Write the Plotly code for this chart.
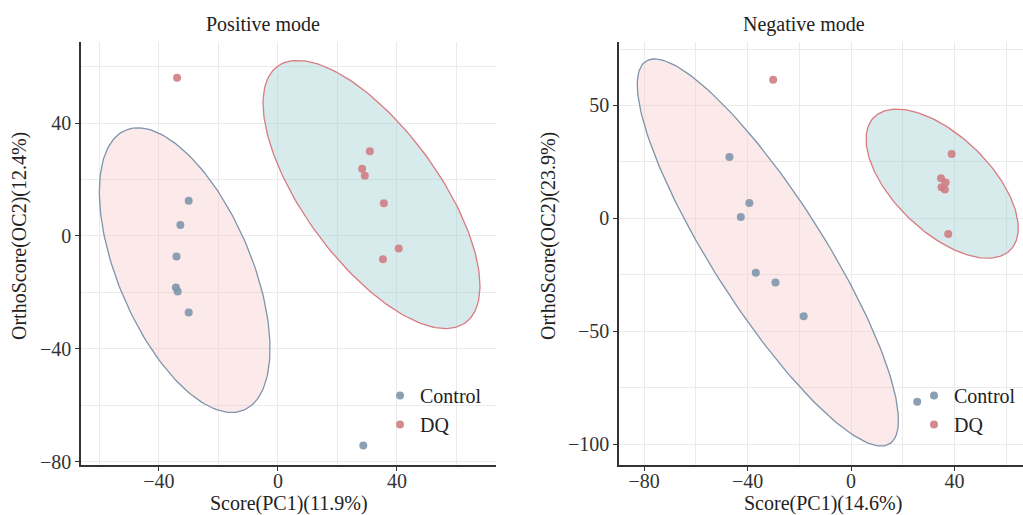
import numpy as np
import plotly.graph_objects as go

# ---------------- data ----------------
groups = ["Control", "DQ"]

pos_control_x = [-30.0, -32.8, -34.1, -34.3, -33.7, -30.0, 28.7]
pos_control_y = [12.5, 3.9, -7.3, -18.2, -19.7, -27.1, -74.2]
pos_dq_x = [-33.9, 30.9, 28.3, 29.2, 35.6, 40.6, 35.3]
pos_dq_y = [56.0, 30.0, 23.8, 21.3, 11.6, -4.4, -8.2]

neg_control_x = [-47.0, -39.3, -42.6, -36.8, -29.2, -18.3, 25.6]
neg_control_y = [27.2, 6.8, 0.6, -24.1, -28.4, -43.4, -81.3]
neg_dq_x = [-30.1, 38.9, 34.8, 36.6, 35.0, 36.3, 37.6]
neg_dq_y = [61.4, 28.5, 17.7, 15.8, 13.7, 12.7, -7.0]

# ellipse parameters: centre x, centre y, semi-major, semi-minor, angle (deg)
pos_control_ellipse = [-31.35, -12.1, 53.4, 22.6, 111.4]
pos_dq_ellipse = [31.45, 14.7, 55.3, 22.9, 124.3]
neg_control_ellipse = [-32.15, -15.15, 97.0, 22.2, 118.7]
neg_dq_ellipse = [35.25, 15.35, 39.6, 19.7, 129.5]

panel_titles = ["Positive mode", "Negative mode"]
x_titles = ["Score(PC1)(11.9%)", "Score(PC1)(14.6%)"]
y_titles = ["OrthoScore(OC2)(12.4%)", "OrthoScore(OC2)(23.9%)"]

# ---------------- style ----------------
W, H = 1023, 515
FONT = "Liberation Serif"
col_control = "#8096AB"
col_dq = "#CF7E83"
fill_control_ell = "rgba(246,196,196,0.38)"
line_control_ell = "#7D94AA"
fill_dq_ell = "rgba(160,208,210,0.42)"
line_dq_ell = "#D97B80"
axis_col = "#333333"
grid_col = "#EBEBEB"


def ellipse(params, n=200):
    cx, cy, a, b, ang = params
    t = np.linspace(0, 2 * np.pi, n)
    th = np.deg2rad(ang)
    x = cx + a * np.cos(t) * np.cos(th) - b * np.sin(t) * np.sin(th)
    y = cy + a * np.cos(t) * np.sin(th) + b * np.sin(t) * np.cos(th)
    return x, y


fig = go.Figure()

panels = [
    dict(xa="x", ya="y", legend="legend",
         ce=pos_control_ellipse, de=pos_dq_ellipse,
         cx=pos_control_x, cy=pos_control_y, dx=pos_dq_x, dy=pos_dq_y),
    dict(xa="x2", ya="y2", legend="legend2",
         ce=neg_control_ellipse, de=neg_dq_ellipse,
         cx=neg_control_x, cy=neg_control_y, dx=neg_dq_x, dy=neg_dq_y),
]

for p in panels:
    ex, ey = ellipse(p["ce"])
    fig.add_trace(go.Scatter(x=ex, y=ey, mode="lines", fill="toself",
                             fillcolor=fill_control_ell,
                             line=dict(color=line_control_ell, width=1.3),
                             xaxis=p["xa"], yaxis=p["ya"], showlegend=False,
                             hoverinfo="skip"))
    ex, ey = ellipse(p["de"])
    fig.add_trace(go.Scatter(x=ex, y=ey, mode="lines", fill="toself",
                             fillcolor=fill_dq_ell,
                             line=dict(color=line_dq_ell, width=1.3),
                             xaxis=p["xa"], yaxis=p["ya"], showlegend=False,
                             hoverinfo="skip"))
    fig.add_trace(go.Scatter(x=p["cx"], y=p["cy"], mode="markers", name=groups[0],
                             marker=dict(color=col_control, size=8, opacity=0.9),
                             xaxis=p["xa"], yaxis=p["ya"], legend=p["legend"],
                             legendgroup=p["legend"] + "c"))
    fig.add_trace(go.Scatter(x=p["dx"], y=p["dy"], mode="markers", name=groups[1],
                             marker=dict(color=col_dq, size=8, opacity=0.9),
                             xaxis=p["xa"], yaxis=p["ya"], legend=p["legend"],
                             legendgroup=p["legend"] + "d"))

ydom = [(H - 465) / H, (H - 42) / H]

axis_common = dict(showline=True, linecolor=axis_col, linewidth=1.6,
                   ticks="outside", ticklen=4, tickwidth=1.2, tickcolor=axis_col,
                   showgrid=True, gridcolor=grid_col, gridwidth=1.2,
                   zeroline=False, automargin=False,
                   tickfont=dict(family=FONT, size=20, color="#333"))

fig.update_layout(
    width=W, height=H,
    margin=dict(l=0, r=0, t=0, b=0),
    paper_bgcolor="white", plot_bgcolor="white",
    xaxis=dict(domain=[81 / W, 496 / W], range=[-66.2, 73.3], dtick=40, tick0=0,
               anchor="y", ticklabelstandoff=-7,
               minor=dict(dtick=20, tick0=0, showgrid=True, gridcolor=grid_col,
                          gridwidth=1.2, ticks=""), **axis_common),
    yaxis=dict(domain=ydom, range=[-81.1, 68.7], dtick=40, tick0=0, anchor="x",
               minor=dict(dtick=20, tick0=0, showgrid=True, gridcolor=grid_col,
                          gridwidth=1.2, ticks=""), **axis_common),
    xaxis2=dict(domain=[619 / W, 1.0], range=[-89.7, 66.5], dtick=40, tick0=0,
                anchor="y2", ticklabelstandoff=-7,
                minor=dict(dtick=20, tick0=0, showgrid=True, gridcolor=grid_col,
                           gridwidth=1.2, ticks=""), **axis_common),
    yaxis2=dict(domain=ydom, range=[-109.3, 78.1], dtick=50, tick0=0, anchor="x2",
                minor=dict(dtick=25, tick0=0, showgrid=True, gridcolor=grid_col,
                           gridwidth=1.2, ticks=""), **axis_common),
    legend=dict(x=380 / W, y=(H - 376) / H, xanchor="left", yanchor="top",
                bgcolor="rgba(0,0,0,0)", font=dict(family=FONT, size=20, color="#222"),
                tracegroupgap=0, itemwidth=30),
    legend2=dict(x=914 / W, y=(H - 376) / H, xanchor="left", yanchor="top",
                 bgcolor="rgba(0,0,0,0)", font=dict(family=FONT, size=20, color="#222"),
                 tracegroupgap=0, itemwidth=30),
    showlegend=True,
)

ann_font = dict(family=FONT, size=20, color="#222")
annotations = [
    dict(text=panel_titles[0], x=263 / W, y=(H - 24) / H),
    dict(text=panel_titles[1], x=804 / W, y=(H - 24) / H),
    dict(text=x_titles[0], x=289 / W, y=(H - 503) / H),
    dict(text=x_titles[1], x=823 / W, y=(H - 503) / H),
    dict(text=y_titles[0], x=19 / W, y=(H - 236) / H, textangle=-90),
    dict(text=y_titles[1], x=548 / W, y=(H - 236) / H, textangle=-90),
]
for a in annotations:
    fig.add_annotation(xref="paper", yref="paper", showarrow=False,
                       xanchor="center", yanchor="middle", font=ann_font, **a)

fig.write_html("out.html")
